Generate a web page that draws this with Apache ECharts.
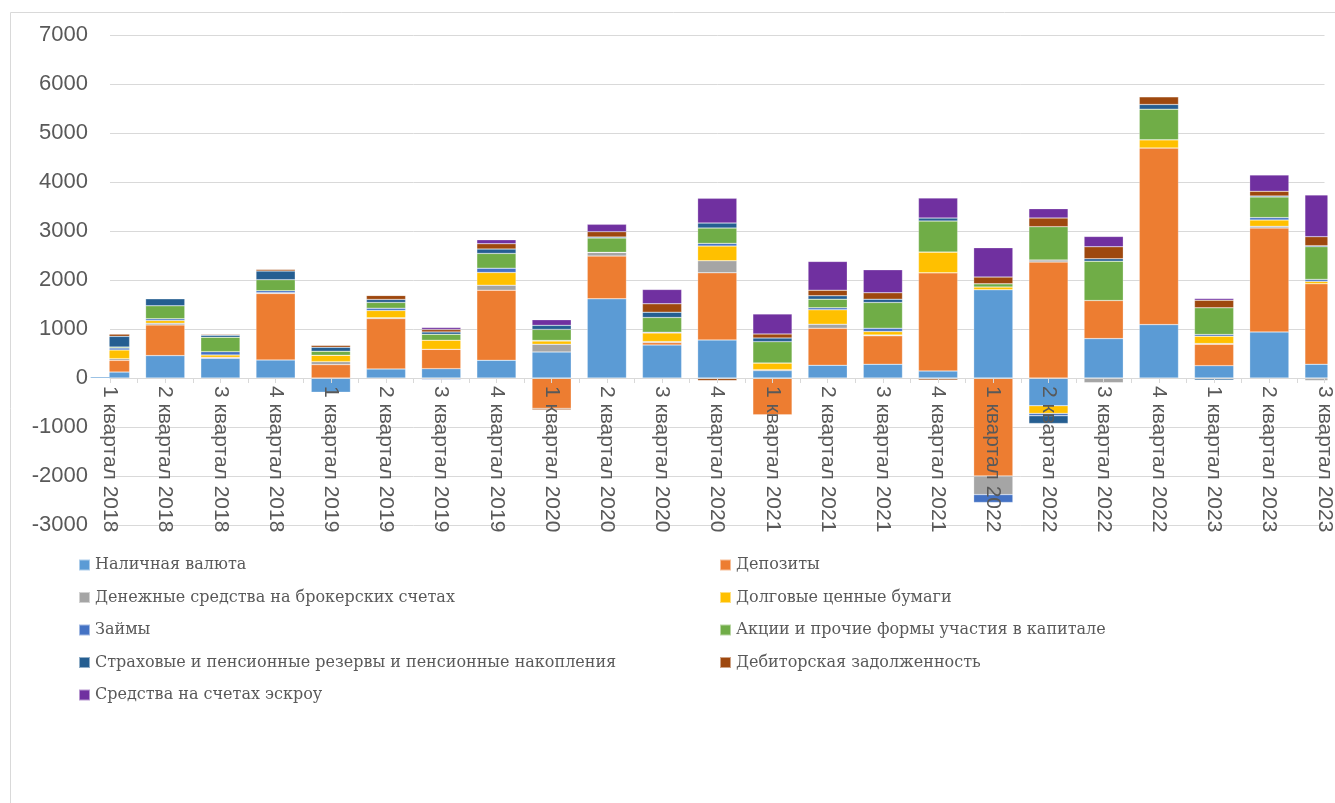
<!DOCTYPE html>
<html>
<head>
<meta charset="utf-8">
<script src="https://cdn.jsdelivr.net/npm/echarts@6/dist/echarts.min.js"></script>
<style>
html,body{margin:0;padding:0;background:#fff;}
#chart{width:1335px;height:803px;}
</style>
</head>
<body>
<div id="chart"></div>
<script>
const categories = ['1 квартал 2018','2 квартал 2018','3 квартал 2018','4 квартал 2018',
  '1 квартал 2019','2 квартал 2019','3 квартал 2019','4 квартал 2019',
  '1 квартал 2020','2 квартал 2020','3 квартал 2020','4 квартал 2020',
  '1 квартал 2021','2 квартал 2021','3 квартал 2021','4 квартал 2021',
  '1 квартал 2022','2 квартал 2022','3 квартал 2022','4 квартал 2022',
  '1 квартал 2023','2 квартал 2023','3 квартал 2023'];

const seriesNames = ['Наличная валюта','Депозиты','Денежные средства на брокерских счетах',
  'Долговые ценные бумаги','Займы','Акции и прочие формы участия в капитале',
  'Страховые и пенсионные резервы и пенсионные накопления','Дебиторская задолженность',
  'Средства на счетах эскроу'];

const cash        = [120, 457, 402, 368, -290, 184, 191, 361, 532, 1616, 675, 777, 150, 259, 280, 143, 1800, -566, 804, 1090, 252, 941, 280];
const deposits    = [240, 627, 20, 1357, 273, 1029, 395, 1431, -620, 873, 48, 1370, -750, 757, 580, 2004, -2000, 2366, 777, 3606, 436, 2120, 1643];
const brokerage   = [35, 34, 0, 15, 61, 15, 0, 102, 157, 75, 20, 245, 20, 82, 20, 0, -380, 41, -100, 0, 15, 34, -50];
const debtSec     = [177, 55, 48, 0, 130, 150, 184, 259, 68, 0, 177, 300, 136, 293, 68, 422, 55, -157, 0, 164, 150, 130, 48];
const loans       = [40, 34, 68, 41, 0, 48, -30, 89, 10, 0, 15, 55, 0, 41, 68, 0, -160, -48, 0, 0, 34, 48, 41];
const equity      = [20, 266, 293, 225, 82, 116, 123, 300, 225, 293, 300, 313, 436, 177, 525, 634, 68, 681, 804, 627, 545, 422, 668];
const insurance   = [218, 143, 41, 177, 82, 61, 48, 89, 82, 20, 109, 102, 75, 68, 68, 61, 0, -157, 48, 95, -40, 20, 20];
const receivables = [48, 10, 20, 34, 41, 82, 48, 109, -30, 109, 170, -50, 82, 116, 130, -40, 136, 177, 245, 157, 157, 95, 184];
const escrow      = [0, 0, 0, 0, 0, 0, 41, 82, 116, 150, 293, 505, 409, 586, 470, 409, 600, 191, 211, 0, 34, 334, 852];

const yTicks = [-3000, 7000, 1000]; // min, max, interval

const seriesData = [cash, deposits, brokerage, debtSec, loans, equity, insurance, receivables, escrow];
const colors = ['#5B9BD5','#ED7D31','#A5A5A5','#FFC000','#4472C4','#70AD47','#255E91','#9E480E','#7030A0'];

const chart = echarts.init(document.getElementById('chart'));
const labelColor = '#595959';
const minorCats = [];
for (let i = 0; i < categories.length * 2 - 1; i++) minorCats.push('');

const gridLeft = 110, gridRight = 8, gridTop = 35, gridBottom = 278, chartW = 1335, chartH = 803;
const plotH = chartH - gridTop - gridBottom;
// distance from plot bottom to the zero line, derived from the axis range
const zeroOffset = -plotH * (0 - yTicks[0]) / (yTicks[1] - yTicks[0]);
const zeroY = chartH - gridBottom + zeroOffset;

const legendText = {fontFamily: 'DejaVu Serif', fontSize: 16, color: labelColor, lineHeight: 20};

chart.setOption({
  animation: false,
  color: colors,
  graphic: [{
    type: 'rect',
    shape: {x: 10.5, y: 12.5, width: 1340, height: 800},
    style: {fill: 'none', stroke: '#d9d9d9', lineWidth: 1},
    z: -10
  }, {
    // plot-area clipping of half bars at the edges (left / right)
    type: 'rect', z: 100,
    shape: {x: gridLeft - 22, y: gridTop - 5, width: 21.5, height: zeroY - gridTop + 4},
    style: {fill: '#fff'}
  }, {
    type: 'rect', z: 100,
    shape: {x: chartW - gridRight + 0.5, y: gridTop - 5, width: 20, height: zeroY - gridTop + 10},
    style: {fill: '#fff'}
  }],
  grid: {left: gridLeft, right: gridRight, top: gridTop, bottom: gridBottom, containLabel: false},
  legend: [{
    data: seriesNames.filter((_, i) => i % 2 === 0),
    orient: 'vertical',
    left: 73, top: 550,
    itemWidth: 11, itemHeight: 11, itemGap: 12.5,
    icon: 'rect',
    textStyle: legendText
  }, {
    data: seriesNames.filter((_, i) => i % 2 === 1),
    orient: 'vertical',
    left: 714, top: 550,
    itemWidth: 11, itemHeight: 11, itemGap: 12.5,
    icon: 'rect',
    textStyle: legendText
  }],
  xAxis: [{
    type: 'category',
    data: categories,
    boundaryGap: false,
    position: 'bottom',
    offset: zeroOffset,
    z: 101,
    axisLine: {onZero: false, lineStyle: {color: '#d9d9d9', width: 1}},
    axisTick: {show: true, length: 5, lineStyle: {color: '#d9d9d9'}},
    axisLabel: {rotate: -90, margin: 8, fontFamily: 'Liberation Sans', fontSize: 21, color: labelColor, interval: 0}
  }, {
    type: 'category',
    data: minorCats,
    position: 'bottom',
    offset: zeroOffset,
    boundaryGap: false,
    z: 101,
    axisLine: {show: false, onZero: false},
    axisTick: {show: true, length: 5, lineStyle: {color: '#d9d9d9'}},
    axisLabel: {show: false}
  }],
  yAxis: {
    type: 'value',
    min: yTicks[0], max: yTicks[1], interval: yTicks[2],
    axisLine: {show: false},
    axisTick: {show: false},
    splitLine: {lineStyle: {color: '#d9d9d9', width: 1}},
    axisLabel: {margin: 22, fontFamily: 'Liberation Sans', fontSize: 22, color: labelColor, formatter: v => String(v)}
  },
  series: seriesNames.map((name, i) => ({
    name: name,
    type: 'bar',
    stack: 'total',
    data: seriesData[i],
    xAxisIndex: 0,
    barCategoryGap: '29%',
    itemStyle: {color: colors[i], borderColor: 'rgba(255,255,255,0.5)', borderWidth: 0.5},
    clip: true
  }))
});
</script>
</body>
</html>
